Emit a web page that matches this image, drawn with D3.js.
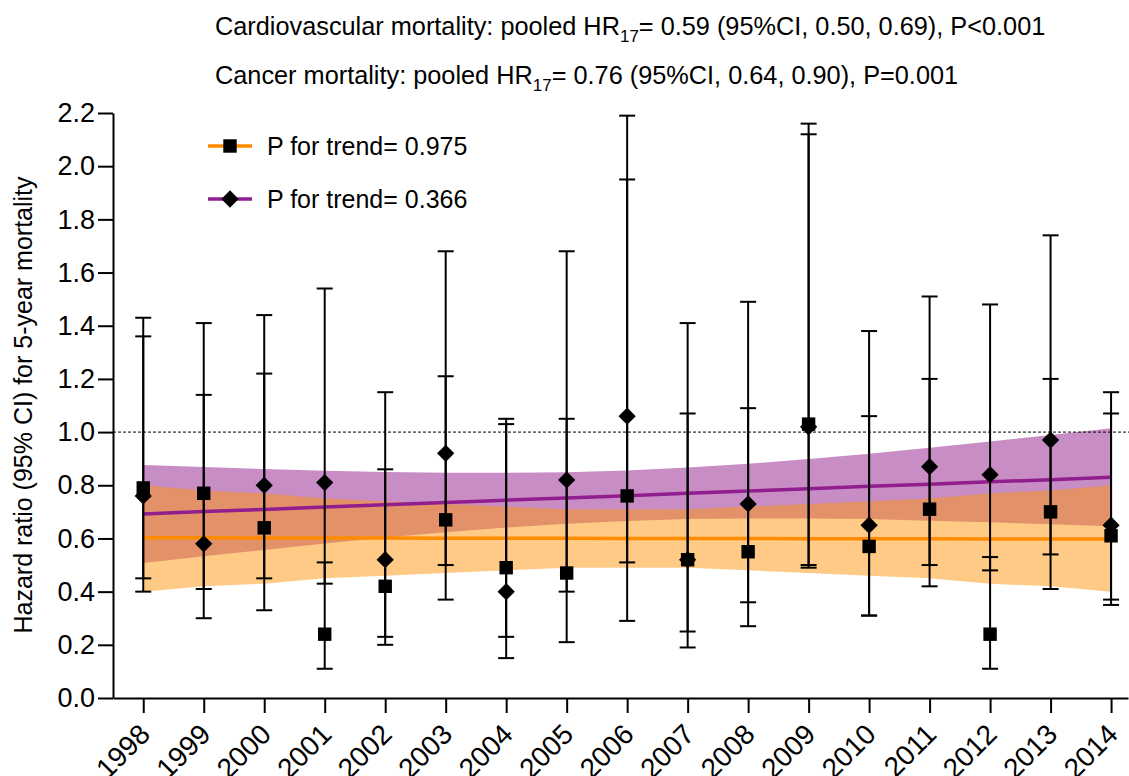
<!DOCTYPE html>
<html>
<head>
<meta charset="utf-8">
<script src="https://cdn.jsdelivr.net/npm/d3@7"></script>
<style>
  html, body { margin: 0; padding: 0; background: #fff; }
  svg { display: block; font-family: "Liberation Sans", Arial, sans-serif; }
</style>
</head>
<body>
<svg id="chart" width="1129" height="776"></svg>
<script>
// ---------- data ----------
const years = [1998,1999,2000,2001,2002,2003,2004,2005,2006,2007,2008,2009,2010,2011,2012,2013,2014];

// Cardiovascular mortality (squares, orange fit)
const cvHR = [0.79,0.77,0.64,0.24,0.42,0.67,0.49,0.47,0.76,0.52,0.55,1.03,0.57,0.71,0.24,0.70,0.61];
const cvLo = [0.40,0.41,0.33,0.11,0.20,0.37,0.23,0.21,0.29,0.25,0.27,0.49,0.31,0.50,0.11,0.41,0.37];
const cvHi = [1.43,1.41,1.22,0.51,0.86,1.21,1.05,1.05,1.95,1.07,1.09,2.12,1.06,1.20,0.53,1.20,1.07];

// Cancer mortality (diamonds, purple fit)
const caHR = [0.76,0.58,0.80,0.81,0.52,0.92,0.40,0.82,1.06,0.52,0.73,1.02,0.65,0.87,0.84,0.97,0.65];
const caLo = [0.45,0.30,0.45,0.43,0.23,0.50,0.15,0.40,0.51,0.19,0.36,0.50,0.31,0.42,0.48,0.54,0.35];
const caHi = [1.36,1.14,1.44,1.54,1.15,1.68,1.03,1.68,2.19,1.41,1.49,2.16,1.38,1.51,1.48,1.74,1.15];

// Trend fits with 95% confidence bands
const cvFit   = [0.603,0.603,0.602,0.602,0.602,0.601,0.601,0.601,0.600,0.600,0.600,0.599,0.599,0.599,0.598,0.598,0.598];
const cvBandLo= [0.40,0.42,0.43,0.45,0.46,0.47,0.48,0.49,0.49,0.49,0.48,0.47,0.46,0.45,0.43,0.42,0.40];
const cvBandHi= [0.80,0.78,0.77,0.75,0.74,0.73,0.72,0.71,0.71,0.71,0.72,0.73,0.74,0.75,0.77,0.78,0.80];
const caFit   = [0.692,0.701,0.709,0.718,0.727,0.735,0.744,0.752,0.761,0.770,0.778,0.787,0.796,0.804,0.813,0.821,0.830];
const caBandLo= [0.508,0.533,0.557,0.581,0.604,0.623,0.641,0.655,0.666,0.673,0.675,0.675,0.673,0.667,0.661,0.653,0.646];
const caBandHi= [0.876,0.869,0.861,0.855,0.850,0.847,0.847,0.849,0.856,0.867,0.881,0.899,0.919,0.941,0.965,0.989,1.014];

const yTicks = [0,0.2,0.4,0.6,0.8,1.0,1.2,1.4,1.6,1.8,2.0,2.2];
const titleLines = [
  {pre: "Cardiovascular mortality: pooled HR", sub: "17", post: "= 0.59 (95%CI, 0.50, 0.69), P<0.001"},
  {pre: "Cancer mortality: pooled HR", sub: "17", post: "= 0.76 (95%CI, 0.64, 0.90), P=0.001"}
];
const legendItems = [
  {label: "P for trend= 0.975", color: "#FF8C00", shape: "square"},
  {label: "P for trend= 0.366", color: "#911E8F", shape: "diamond"}
];
const yLabel = "Hazard ratio (95% CI) for 5-year mortality";

// ---------- layout ----------
const svg = d3.select("#chart");
const x = d3.scaleLinear().domain([1997.5, 2014.28]).range([113, 1128]);
const y = d3.scaleLinear().domain([0, 2.2]).range([698, 113]);

const orange = "#FF8C00", purple = "#911E8F";
const orangeFill = "rgb(253,149,11)", purpleFill = "rgb(147,27,141)";

// bands
const area = (lo, hi) => d3.area()
  .x((d, i) => x(years[i]))
  .y0((d, i) => y(lo[i]))
  .y1((d, i) => y(hi[i]));
svg.append("path").datum(years).attr("d", area(caBandLo, caBandHi))
  .attr("fill", purpleFill).attr("fill-opacity", 0.5);
svg.append("path").datum(years).attr("d", area(cvBandLo, cvBandHi))
  .attr("fill", orangeFill).attr("fill-opacity", 0.5);

// fit lines
const line = vals => d3.line().x((d, i) => x(years[i])).y((d, i) => y(vals[i]));
svg.append("path").datum(years).attr("d", line(caFit)).attr("fill", "none")
  .attr("stroke", purple).attr("stroke-width", 3.5);
svg.append("path").datum(years).attr("d", line(cvFit)).attr("fill", "none")
  .attr("stroke", orange).attr("stroke-width", 3.5);

// reference line at 1.0
svg.append("line").attr("x1", x.range()[0]).attr("x2", 1129)
  .attr("y1", y(1)).attr("y2", y(1))
  .attr("stroke", "#000").attr("stroke-width", 1).attr("stroke-dasharray", "3,2");

// error bars
function errorBars(lo, hi) {
  const g = svg.append("g").attr("stroke", "#000").attr("stroke-width", 2);
  years.forEach((yr, i) => {
    const cx = x(yr);
    g.append("line").attr("x1", cx).attr("x2", cx).attr("y1", y(lo[i])).attr("y2", y(hi[i]));
    g.append("line").attr("x1", cx - 8).attr("x2", cx + 8).attr("y1", y(lo[i])).attr("y2", y(lo[i]));
    g.append("line").attr("x1", cx - 8).attr("x2", cx + 8).attr("y1", y(hi[i])).attr("y2", y(hi[i]));
  });
}
errorBars(caLo, caHi);
errorBars(cvLo, cvHi);

// markers
const sq = d3.symbol().type(d3.symbolSquare).size(180);
const di = d3.symbol().type(d3.symbolDiamond2).size(190);
svg.append("g").selectAll("path").data(years).join("path")
  .attr("d", di).attr("transform", (d, i) => `translate(${x(d)},${y(caHR[i])})`)
  .attr("fill", "#000");
svg.append("g").selectAll("path").data(years).join("path")
  .attr("d", sq).attr("transform", (d, i) => `translate(${x(d)},${y(cvHR[i])})`)
  .attr("fill", "#000");

// axes
const yAxis = svg.append("g").attr("transform", `translate(${x.range()[0]},0)`)
  .call(d3.axisLeft(y).tickValues(yTicks).tickFormat(d3.format(".1f")).tickSize(15).tickSizeOuter(0).tickPadding(3));
yAxis.selectAll("text").attr("font-size", 27).attr("font-family", "Liberation Sans, Arial, sans-serif").attr("fill", "#000");
yAxis.selectAll("line, path").attr("stroke", "#000").attr("stroke-width", 2);

const xAxis = svg.append("g").attr("transform", `translate(0,${y(0)})`)
  .call(d3.axisBottom(x).tickValues(years).tickFormat(d3.format("d")).tickSize(15).tickSizeOuter(0));
xAxis.selectAll("line, path").attr("stroke", "#000").attr("stroke-width", 2);
xAxis.selectAll("text")
  .attr("font-size", 28).attr("font-family", "Liberation Sans, Arial, sans-serif").attr("fill", "#000")
  .attr("text-anchor", "end").attr("dy", "0.35em").attr("y", 0)
  .attr("transform", "translate(1,31) rotate(-45)");

// y label
svg.append("text").attr("transform", `translate(32,405) rotate(-90)`)
  .attr("text-anchor", "middle").attr("font-size", 25).text(yLabel);

// titles
titleLines.forEach((t, i) => {
  const txt = svg.append("text").attr("x", 215).attr("y", 35 + i * 49).attr("font-size", 25.3);
  txt.append("tspan").text(t.pre);
  txt.append("tspan").attr("font-size", 17).attr("dy", 7).text(t.sub);
  txt.append("tspan").attr("dy", -7).text(t.post);
});

// legend
legendItems.forEach((item, i) => {
  const ly = 146 + i * 53;
  const g = svg.append("g");
  g.append("line").attr("x1", 208).attr("x2", 252).attr("y1", ly).attr("y2", ly)
    .attr("stroke", item.color).attr("stroke-width", 3.5);
  g.append("path").attr("d", item.shape === "square" ? sq : di)
    .attr("transform", `translate(230,${ly})`)
    .attr("fill", "#000");
  g.append("text").attr("x", 267).attr("y", ly + 9).attr("font-size", 25).text(item.label);
});
</script>
</body>
</html>
